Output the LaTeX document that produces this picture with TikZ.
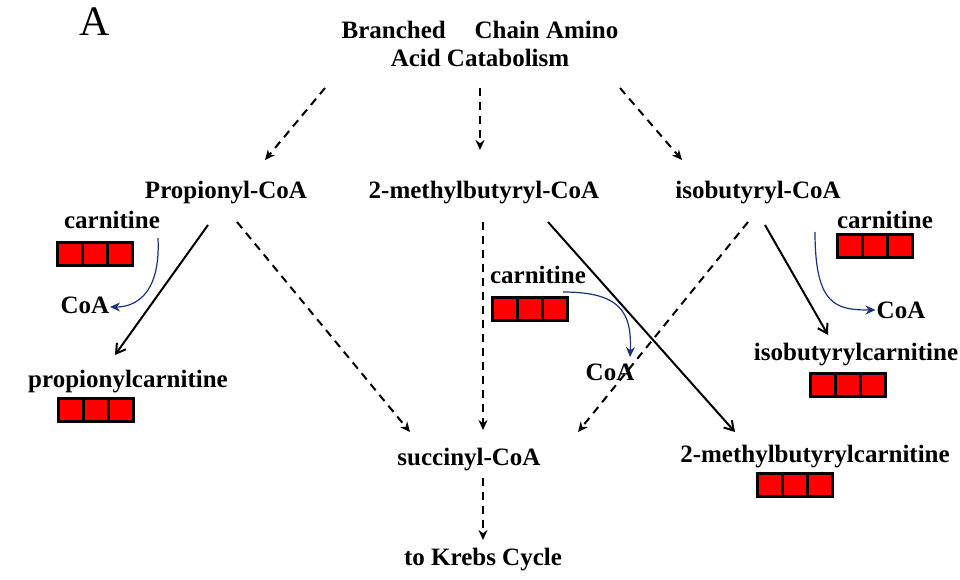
\documentclass[tikz,border=0pt]{standalone}
\usepackage{fontspec}
\setmainfont{Liberation Serif}
\usetikzlibrary{calc,arrows.meta}
\definecolor{coablue}{RGB}{30,50,120}
\newcommand\cells[3]{% name, x, y of middle cell
  \foreach \i in {-1,0,1}
    \node[cell] (#1\i) at ($(#2,#3)+(\i*25,0)$) {};}
\begin{document}
\begin{tikzpicture}[x=1pt,y=-1pt,
    lbl/.style={font=\fontsize{25}{28}\selectfont\bfseries, inner sep=1pt},
    cell/.style={draw=black, fill=red, line width=2.4pt, minimum width=25pt, minimum height=23pt, inner sep=0pt},
    dasharr/.style={dashed, dash pattern=on 8pt off 6pt, line width=2pt, -{Stealth[length=10pt,width=9pt]}},
    solarr/.style={line width=2pt, -{Straight Barb[length=9pt,width=11pt]}},
    bluearr/.style={coablue, line width=1.2pt, -{Stealth[length=10pt,width=9pt]}}]
    \useasboundingbox (0,0) rectangle (960,580);

    % panel letter and source
    \node[font=\fontsize{42}{44}\selectfont] (panel) at (95,22) {A};
    \node[lbl, align=center] (title) at (480,44) {Branched\hspace{0.9em} Chain Amino\\Acid Catabolism};

    % acyl-CoA intermediates
    \node[lbl] (prop) at (226,193) {Propionyl-CoA};
    \node[lbl] (mb) at (484,193) {2-methylbutyryl-CoA};
    \node[lbl] (ib) at (758,193) {isobutyryl-CoA};
    \node[lbl] (succ) at (469,460) {succinyl-CoA};
    \node[lbl] (krebs) at (483,560) {to Krebs Cycle};

    % carnitine and CoA labels
    \node[lbl] (carnL) at (112,220) {carnitine};
    \node[lbl] (carnM) at (538,275) {carnitine};
    \node[lbl] (carnR) at (885,220) {carnitine};
    \node[lbl] (coaL) at (85,305) {CoA};
    \node[lbl] (coaM) at (610,372) {CoA};
    \node[lbl] (coaR) at (901,310) {CoA};

    % acylcarnitines
    \node[lbl] (pcar) at (128,382) {propionylcarnitine};
    \node[lbl] (ibcar) at (856,355) {isobutyrylcarnitine};
    \node[lbl] (mbcar) at (815,457) {2-methylbutyrylcarnitine};

    % red boxes
    \cells{bcL}{95}{254}
    \cells{bcM}{530}{309}
    \cells{bcR}{875}{246}
    \cells{bpc}{96}{410}
    \cells{bib}{848}{385}
    \cells{bmb}{795}{485}

    % dashed pathway arrows
    \draw[dasharr] ($(title)+(-155,44)$) -- ($(prop)+(39,-33)$);
    \draw[dasharr] ($(title)+(0,44)$) -- ($(mb)+(-4,-43)$);
    \draw[dasharr] ($(title)+(140,44)$) -- ($(ib)+(-76,-33)$);
    \draw[dasharr] ($(prop)+(11,29)$) -- ($(succ)+(-59,-28)$);
    \draw[dasharr] ($(mb)+(-1,29)$) -- ($(succ)+(14,-30)$);
    \draw[dasharr] ($(ib)+(-10,29)$) -- ($(succ)+(109,-28)$);
    \draw[dasharr] ($(succ)+(14,18)$) -- ($(krebs)+(0,-20)$);

    % carnitine conjugation
    \draw[solarr] ($(prop)+(-18,32)$) -- ($(pcar)+(-13,-27)$);
    \draw[solarr] ($(mb)+(64,29)$) -- ($(mbcar)+(-80,-25)$);
    \draw[solarr] ($(ib)+(7,32)$) -- ($(ibcar)+(-28,-20)$);

    % CoA release
    \draw[bluearr] ($(carnL)+(46,18)$) .. controls +(3,62) and +(20,0) .. ($(coaL)+(25,2)$);
    \draw[bluearr] ($(carnM)+(25,17)$) .. controls +(57,0) and +(2,-45) .. ($(coaM)+(20,-15)$);
    \draw[bluearr] ($(carnR)+(-70,12)$) .. controls +(0,73) and +(-40,0) .. (coaR.west);
\end{tikzpicture}
\end{document}
